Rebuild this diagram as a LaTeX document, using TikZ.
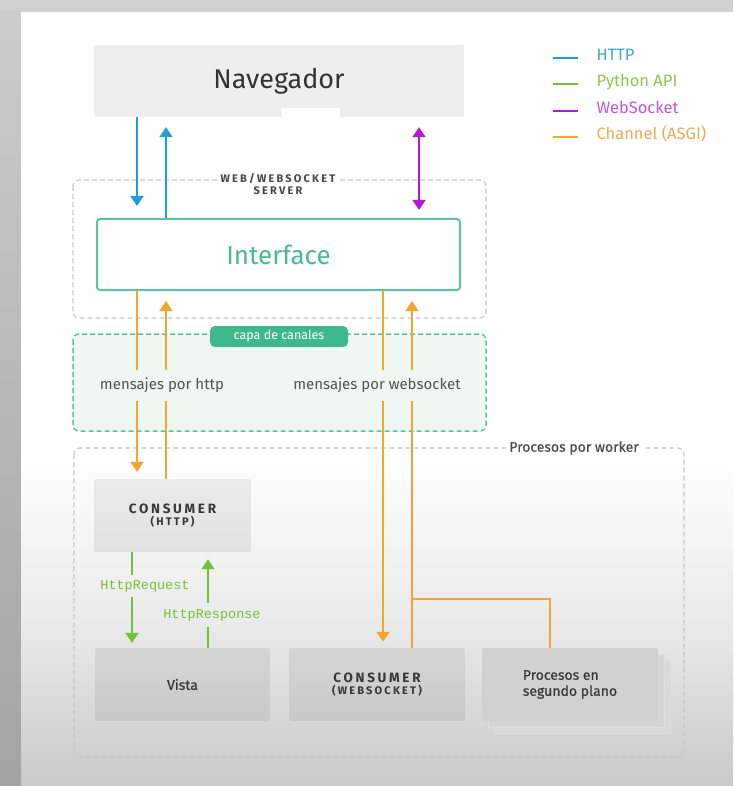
\documentclass[tikz,border=0pt]{standalone}
\usepackage{fontspec}
\setmainfont{Fira Sans}
\newfontfamily\monofont{Liberation Mono}
\newfontfamily\spacedfont[LetterSpace=20]{Fira Sans}
\newfontfamily\medfont[FakeBold=0.6]{Fira Sans}
\usepackage{tikz}
\usetikzlibrary{arrows.meta}

\definecolor{httpblue}{HTML}{1BA1D6}
\definecolor{httptext}{HTML}{4AA3CC}
\definecolor{pyapi}{HTML}{72C236}
\definecolor{pytext}{HTML}{8DC653}
\definecolor{wspurple}{HTML}{B21BD4}
\definecolor{wstext}{HTML}{C157DC}
\definecolor{asgiorange}{HTML}{F2A52F}
\definecolor{asgitext}{HTML}{EBA95A}
\definecolor{ifacegreen}{HTML}{5DC3A0}
\definecolor{ifacetext}{HTML}{4DB890}
\definecolor{pillgreen}{HTML}{3FB98B}
\definecolor{layerbg}{HTML}{EFF7F3}

\tikzstyle{arrow} = [-{Triangle[width=13pt,length=10pt]}, line width=1.8pt]
\tikzstyle{line} = [line width=1.8pt]
\tikzstyle{box} = [rectangle, fill=black, fill opacity=0.065, text opacity=1, rounded corners=2pt, minimum height=73pt]
\tikzstyle{dashbox} = [draw=black!22, line width=1.1pt, dash pattern=on 5pt off 3pt, rounded corners=6pt]
\tikzstyle{legend} = [anchor=west, text height=0.7em, text depth=0.2em, font=\fontsize{16.5}{19}\selectfont]
\tikzstyle{msg} = [text=black!68, minimum height=31pt, font=\fontsize{15}{18}\selectfont]
\tikzstyle{apilabel} = [text=pyapi, minimum height=22pt, inner xsep=1pt, font=\monofont\fontsize{13.5}{16}\selectfont]

\begin{document}
\begin{tikzpicture}[x=1pt,y=-1pt]
\useasboundingbox (0,0) rectangle (733,786);
% pagina
\fill[black!18] (0,0) rectangle (733,786);
\shade[top color=black!20, bottom color=black!36] (0,12) rectangle (21,786);
\fill[white] (21,12) rectangle (733,450);
\shade[top color=white, bottom color=black!8] (21,450) rectangle (733,620);
\shade[top color=black!8, bottom color=black!21] (21,620) rectangle (733,786);

% columnas de las flechas
\coordinate (colA) at (137,0);
\coordinate (colB) at (166,0);
\coordinate (colC) at (383,0);
\coordinate (colD) at (412,0);
\coordinate (colW) at (419,0);
\coordinate (colE) at (550,0);
\coordinate (colG) at (132,0);
\coordinate (colH) at (208,0);

% navegador
\node[box, minimum width=370pt, minimum height=72pt, text=black!80, font=\fontsize{27}{30}\selectfont] (nav) at (279,81) {Navegador};
\fill[white] (282,108) rectangle (340,118);

% servidor
\draw[dashbox] (73,180) rectangle (486,318);
\node[fill=white, align=center, text=black!72, inner sep=2pt, font=\spacedfont\bfseries\fontsize{11}{12}\selectfont] (srv) at (278,184) {WEB/WEBSOCKET\\SERVER};
\node[draw=ifacegreen, line width=2pt, rounded corners=3pt, minimum width=363pt, minimum height=71pt, text=ifacetext, font=\fontsize{26}{30}\selectfont] (iface) at (278.5,254.5) {Interface};

% capa de canales
\draw[ifacegreen, fill=layerbg, line width=1.5pt, dash pattern=on 5pt off 3pt, rounded corners=6pt] (73,334) rectangle (486,431);
\node[fill=pillgreen, rounded corners=5pt, text=white, minimum width=138pt, minimum height=21pt, font=\fontsize{12.5}{14}\selectfont] (capa) at (279,336.5) {capa de canales};
\node[msg] (mhttp) at (162,385.5) {mensajes por http};
\node[msg] (mws) at (377,385.5) {mensajes por websocket};

% procesos por worker
\draw[dashbox] (74,448) rectangle (684,757);
\node[fill=white, text=black!70, inner sep=3pt, font=\medfont\fontsize{14}{16}\selectfont] (worker) at (574,448) {Procesos por worker};
\node[box, minimum width=157pt, align=center, text=black!78] (chttp) at (172.5,515.5)
  {\spacedfont\bfseries\fontsize{13.5}{16}\selectfont CONSUMER\\\spacedfont\bfseries\fontsize{11}{14}\selectfont (HTTP)};
\node[box, minimum width=175pt, text=black!78, font=\medfont\fontsize{14}{16}\selectfont] (vista) at (182.5,684.5) {Vista};
\node[box, minimum width=176pt, align=center, text=black!78] (cws) at (377,684.5)
  {\spacedfont\bfseries\fontsize{13.5}{16}\selectfont CONSUMER\\\spacedfont\bfseries\fontsize{11}{14}\selectfont (WEBSOCKET)};
\draw[white!88!black, fill=black!15] (494,660) rectangle (670,733);
\draw[white!88!black, fill=black!16] (488,654) rectangle (664,727);
\node[rectangle, fill=black!18, rounded corners=2pt, minimum width=176pt, minimum height=73pt, align=left, text=black!78, font=\medfont\fontsize{14}{16}\selectfont] (bg) at (570,684.5) {Procesos en\\segundo plano};

% HTTP
\draw[arrow, httpblue, shorten >=12pt] (nav.south -| colA) -- (iface.north -| colA);
\draw[arrow, httpblue, shorten >=10pt] (iface.north -| colB) -- (nav.south -| colB);
% WebSocket
\draw[arrow, wspurple, {Triangle[width=13pt,length=10pt]}-{Triangle[width=13pt,length=10pt]}, shorten <=10pt, shorten >=8pt] (nav.south -| colW) -- (iface.north -| colW);

% Channel (ASGI)
\draw[line, asgiorange] (iface.south -| colA) -- (mhttp.north -| colA);
\draw[arrow, asgiorange, shorten >=7pt] (mhttp.south -| colA) -- (chttp.north -| colA);
\draw[line, asgiorange] (chttp.north -| colB) -- (mhttp.south -| colB);
\draw[arrow, asgiorange, shorten >=10pt] (mhttp.north -| colB) -- (iface.south -| colB);
\draw[line, asgiorange] (iface.south -| colC) -- (mws.north -| colC);
\draw[arrow, asgiorange, shorten >=6pt] (mws.south -| colC) -- (cws.north -| colC);
\draw[line, asgiorange] (cws.north -| colD) -- (mws.south -| colD);
\draw[arrow, asgiorange, shorten >=10pt] (mws.north -| colD) -- (iface.south -| colD);
\coordinate (split) at (412,599);
\draw[line, asgiorange, line width=1.6pt] (bg.north -| colE) |- (split);

% Python API
\node[apilabel] (req) at (145,586) {HttpRequest};
\node[apilabel, minimum height=24pt] (resp) at (212,615) {HttpResponse};
\draw[line, pyapi] (chttp.south -| colG) -- (req.north -| colG);
\draw[arrow, pyapi, shorten >=5pt] (req.south -| colG) -- (vista.north -| colG);
\draw[line, pyapi] (vista.north -| colH) -- (resp.south -| colH);
\draw[arrow, pyapi, shorten >=7pt] (resp.north -| colH) -- (chttp.south -| colH);

% leyenda
\node[legend, text=httptext] (legA) at (593,58) {HTTP};
\node[legend, text=pytext] (legB) at (593,84) {Python API};
\node[legend, text=wstext] (legC) at (593,111) {WebSocket};
\node[legend, text=asgitext] (legD) at (593,137) {Channel (ASGI)};
\draw[line, httpblue] ([xshift=-15pt]legA.west) -- ++(-25,0);
\draw[line, pyapi] ([xshift=-15pt]legB.west) -- ++(-25,0);
\draw[line, wspurple] ([xshift=-15pt]legC.west) -- ++(-25,0);
\draw[line, asgiorange] ([xshift=-15pt]legD.west) -- ++(-25,0);
\end{tikzpicture}
\end{document}
